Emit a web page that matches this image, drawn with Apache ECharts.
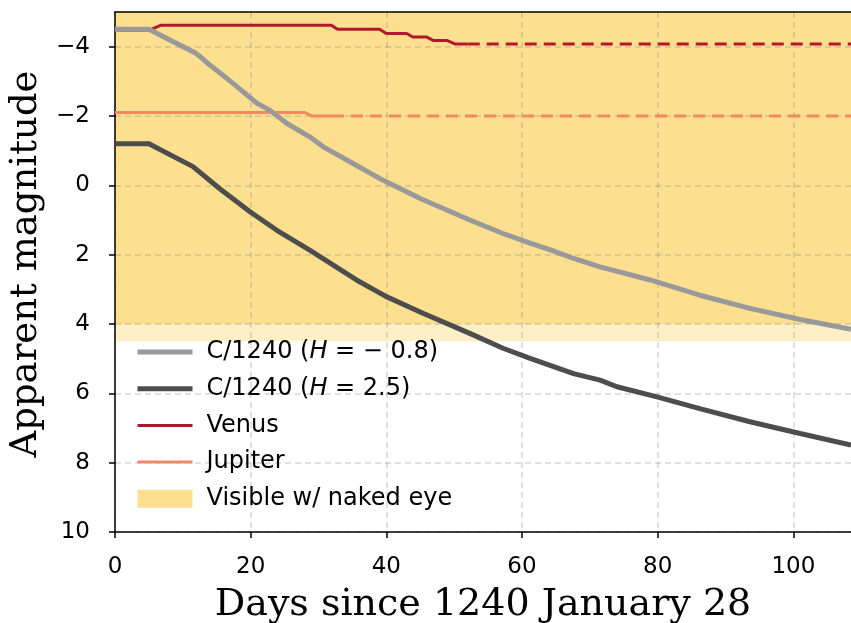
<!DOCTYPE html>
<html>
<head>
<meta charset="utf-8">
<script src="https://cdn.jsdelivr.net/npm/echarts@6/dist/echarts.min.js"></script>
<style>
html, body { margin: 0; padding: 0; background: #fff; }
#chart { width: 851px; height: 623px; }
</style>
</head>
<body>
<div id="chart"></div>
<script>
// comet C/1240, bright case (H = -0.8)
var days_bright = [0, 5, 12, 14, 17.4, 20.9, 22.8, 25.3, 28.7, 30.7, 35.1, 39, 45, 52.3, 57.2, 61.2, 64.6, 67.6, 71.5, 78.9, 86.2, 93.6, 101, 108.5];
var mag_bright  = [-4.5, -4.5, -3.8, -3.47, -2.94, -2.37, -2.17, -1.79, -1.4, -1.11, -0.63, -0.2, 0.38, 1.0, 1.39, 1.67, 1.89, 2.11, 2.35, 2.73, 3.17, 3.55, 3.87, 4.15];
// comet C/1240, faint case (H = 2.5)
var days_faint = [0, 5, 11.5, 15.4, 19.9, 23.8, 28.7, 35.6, 40, 45.4, 52.3, 57.2, 61.2, 67.6, 71.5, 74, 79.9, 86.2, 93.6, 101, 108.5];
var mag_faint  = [-1.2, -1.2, -0.54, 0.09, 0.76, 1.29, 1.87, 2.73, 3.21, 3.69, 4.27, 4.7, 4.99, 5.43, 5.62, 5.81, 6.1, 6.44, 6.82, 7.16, 7.49];
// Venus: computed part, then held constant
var days_venus = [0, 5.1, 6.8, 31.9, 32.8, 39, 40, 43, 43.9, 45.9, 46.9, 48.9, 50.1, 52];
var mag_venus  = [-4.48, -4.48, -4.62, -4.62, -4.5, -4.5, -4.38, -4.38, -4.28, -4.28, -4.18, -4.18, -4.08, -4.08];
var days_venus_ext = [52, 108.5];
var mag_venus_ext  = [-4.08, -4.08];
// Jupiter
var days_jupiter = [0, 28, 29, 32];
var mag_jupiter  = [-2.1, -2.1, -2.0, -2.0];
var days_jupiter_ext = [32, 108.5];
var mag_jupiter_ext  = [-2.0, -2.0];
// naked-eye limits
var visible_limit = [-5, 4];
var visible_soft = [4, 4.5];

var x_ticks = [0, 20, 40, 60, 80, 100];
var y_ticks = [-4, -2, 0, 2, 4, 6, 8, 10];

function pairs(xs, ys) {
	return xs.map(function (x, i) { return [x, ys[i]]; });
}
function fmtMag(v) {
	return v < 0 ? '\u2212' + Math.abs(v) : String(v);
}

var tickFont = 'DejaVu Sans';
var gridLine = { show: true, lineStyle: { color: 'rgba(128,128,128,0.32)', width: 1.5, type: [6, 4] } };

var option = {
	animation: false,
	backgroundColor: '#fff',
	grid: { left: 115, right: 0, top: 12, bottom: 91, outerBoundsMode: 'none' },
	legend: {
		orient: 'vertical',
		left: 135,
		top: 340,
		padding: 0,
		itemWidth: 55,
		itemHeight: 18,
		itemGap: 12.7,
		itemStyle: { color: 'transparent', borderColor: 'transparent', borderWidth: 0 },
		textStyle: {
			fontFamily: tickFont, fontSize: 24, color: '#000', lineHeight: 18,
			padding: [0, 0, 0, 9],
			rich: { i: { fontFamily: tickFont, fontStyle: 'italic', fontSize: 24, color: '#000', lineHeight: 18 } }
		},
		formatter: function (name) {
			if (name === 'bright') return 'C/1240 ({i|H} = \u2212 0.8)';
			if (name === 'faint') return 'C/1240 ({i|H} = 2.5)';
			return name;
		},
		data: [
			{ name: 'bright', lineStyle: { width: 5 } },
			{ name: 'faint', lineStyle: { width: 5 } },
			{ name: 'Venus', lineStyle: { width: 3 } },
			{ name: 'Jupiter', lineStyle: { width: 3 } },
			{ name: 'Visible w/ naked eye', icon: 'rect', itemStyle: { color: '#FDDF90' } }
		]
	},
	xAxis: [
		{
			type: 'value', min: 0, max: 108.5, z: 2,
			name: 'Days since 1240 January 28',
			nameLocation: 'middle', nameGap: 54,
			nameTextStyle: { fontFamily: 'DejaVu Serif', fontSize: 38, color: '#000' },
			axisLine: { show: true, onZero: false, lineStyle: { color: '#000', width: 1.5 } },
			axisTick: { show: true, length: 6, lineStyle: { color: '#000', width: 1.5 }, customValues: x_ticks },
			axisLabel: { fontFamily: tickFont, fontSize: 23, color: '#000', margin: 24, customValues: x_ticks },
			splitLine: gridLine
		},
		{
			type: 'value', position: 'top', min: 0, max: 108.5, z: 2,
			axisLine: { show: true, onZero: false, lineStyle: { color: '#000', width: 1.5 } },
			axisTick: { show: false }, axisLabel: { show: false }, splitLine: { show: false }
		}
	],
	yAxis: {
		type: 'value', inverse: true, min: -5, max: 10, z: 2,
		name: 'Apparent magnitude',
		nameLocation: 'middle', nameGap: 66,
		nameTextStyle: { fontFamily: 'DejaVu Serif', fontSize: 37, color: '#000', padding: [0, 0, 0, 16] },
		axisLine: { show: true, onZero: false, lineStyle: { color: '#000', width: 1.5 } },
		axisTick: { show: true, length: 6, lineStyle: { color: '#000', width: 1.5 }, customValues: y_ticks },
		axisLabel: { fontFamily: tickFont, fontSize: 23, color: '#000', margin: 25, customValues: y_ticks, formatter: fmtMag },
		splitLine: gridLine
	},
	series: [
		{
			name: 'Visible w/ naked eye', type: 'line', z: 0, data: [],
			itemStyle: { color: '#FDDF90' },
			markArea: {
				silent: true,
				data: [
					[{ yAxis: visible_limit[0], itemStyle: { color: '#FDDF90' } }, { yAxis: visible_limit[1] }],
					[{ yAxis: visible_soft[0], itemStyle: { color: '#FEEFC6' } }, { yAxis: visible_soft[1] }]
				]
			}
		},
		{
			name: 'Venus', type: 'line', z: 3, symbol: 'none', data: pairs(days_venus, mag_venus),
			itemStyle: { color: '#B2182B' }, lineStyle: { color: '#B2182B', width: 3 }
		},
		{
			name: 'Venus ext', type: 'line', z: 3, symbol: 'none', data: pairs(days_venus_ext, mag_venus_ext),
			lineStyle: { color: '#B2182B', width: 3, type: [12, 7] }
		},
		{
			name: 'Jupiter', type: 'line', z: 3, symbol: 'none', data: pairs(days_jupiter, mag_jupiter),
			itemStyle: { color: '#EF8A62' }, lineStyle: { color: '#EF8A62', width: 3 }
		},
		{
			name: 'Jupiter ext', type: 'line', z: 3, symbol: 'none', data: pairs(days_jupiter_ext, mag_jupiter_ext),
			lineStyle: { color: '#EF8A62', width: 3, type: [12, 7] }
		},
		{
			name: 'bright', type: 'line', z: 3, symbol: 'none', data: pairs(days_bright, mag_bright),
			itemStyle: { color: '#999999' }, lineStyle: { color: '#999999', width: 5 }
		},
		{
			name: 'faint', type: 'line', z: 3, symbol: 'none', data: pairs(days_faint, mag_faint),
			itemStyle: { color: '#4D4D4D' }, lineStyle: { color: '#4D4D4D', width: 5 }
		}
	]
};

var chart = echarts.init(document.getElementById('chart'));
chart.setOption(option);
</script>
</body>
</html>
